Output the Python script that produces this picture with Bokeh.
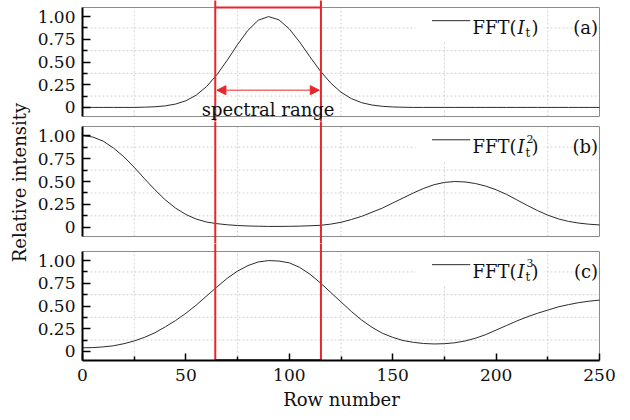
import math
from bokeh.plotting import figure
from bokeh.layouts import column, row
from bokeh.models import Range1d, FixedTicker, Arrow, NormalHead
from bokeh.core.properties import value
from bokeh.embed import file_html
from bokeh.resources import INLINE

# ---------------- data ----------------
row_number = list(range(0, 251, 5))

fft_I1 = [0, 0, 0, 0, 0, 0, 0.003, 0.007, 0.017, 0.037,
          0.073, 0.135, 0.230, 0.360, 0.520, 0.693, 0.849, 0.960, 1.0, 0.964,
          0.864, 0.720, 0.557, 0.401, 0.269, 0.167, 0.097, 0.052, 0.026, 0.012,
          0.005, 0.002, 0, 0, 0, 0, 0, 0, 0, 0,
          0, 0, 0, 0, 0, 0, 0, 0, 0, 0, 0]

fft_I2 = [1.0, 0.985, 0.94, 0.865, 0.77, 0.655, 0.53, 0.41, 0.30, 0.21,
          0.14, 0.09, 0.058, 0.04, 0.028, 0.02, 0.015, 0.012, 0.01, 0.01,
          0.011, 0.013, 0.017, 0.022, 0.035, 0.055, 0.085, 0.12, 0.165, 0.21,
          0.265, 0.32, 0.375, 0.425, 0.465, 0.49, 0.50, 0.495, 0.478, 0.45,
          0.41, 0.36, 0.30, 0.24, 0.183, 0.133, 0.093, 0.065, 0.046, 0.034, 0.026]

fft_I3 = [0.04, 0.042, 0.05, 0.062, 0.085, 0.115, 0.155, 0.205, 0.27, 0.34,
          0.42, 0.51, 0.61, 0.71, 0.805, 0.885, 0.945, 0.985, 1.0, 0.995,
          0.975, 0.925, 0.85, 0.755, 0.65, 0.545, 0.44, 0.345, 0.265, 0.20,
          0.155, 0.12, 0.10, 0.087, 0.082, 0.085, 0.095, 0.115, 0.145, 0.185,
          0.235, 0.285, 0.335, 0.38, 0.42, 0.455, 0.49, 0.515, 0.537, 0.553, 0.565]

series = [fft_I1, fft_I2, fft_I3]
powers = ["", "2", "3"]
panel_labels = ["(a)", "(b)", "(c)"]

y_ticks = [0, 0.25, 0.5, 0.75, 1.0]
y_tick_labels = ["0", "0.25", "0.50", "0.75", "1.00"]
y_minor = [0.125, 0.375, 0.625, 0.875]
x_ticks = [0, 50, 100, 150, 200, 250]
x_minor = [25, 75, 125, 175, 225]
range_lo, range_hi = 64.2, 115.3

# ---------------- styling / layout ----------------
FONT = "DejaVu Serif"
RED = "#e8262a"
CURVE = "#2b2b2b"
BOX = "#8c8c8c"
GRID = "#d2d2d2"
TXT = "#111111"
Y_LO, Y_HI = -0.1, 1.1
X_LO, X_HI = 0, 250
LBL_W = 32
LEFT, RIGHT = 50, 22
FRAME_W = 518
W = LEFT + FRAME_W + RIGHT
x_range = Range1d(0, FRAME_W / (517.0 / 250))

# (frame top, panel top, panel bottom, frame bottom) in canvas pixels
geoms = [(0, 7, 116, 121), (121, 126, 236, 243), (243, 251, 360, 360)]
BOTTOM_BORDER = 55
TOTAL_H = geoms[-1][3] + BOTTOM_BORDER

figs = []
for i, (T, pt, pb, B) in enumerate(geoms):
    k = (pb - pt) / (Y_HI - Y_LO)
    y_end = Y_HI + (pt - T) / k
    y_start = Y_LO - (B - pb) / k
    last = i == 2
    h = (B - T) + (BOTTOM_BORDER if last else 0)
    p = figure(width=W, height=h, x_range=x_range,
               y_range=Range1d(y_start, y_end),
               output_backend="svg", toolbar_location=None,
               x_axis_location="below" if last else None,
               min_border_left=LEFT, min_border_right=RIGHT,
               min_border_top=0, min_border_bottom=BOTTOM_BORDER if last else 0)
    p.outline_line_color = None
    p.background_fill_color = "white"
    p.border_fill_color = "white"
    p.xgrid.visible = False
    p.ygrid.visible = False

    # grid (dashed, at minor positions, only inside the panel)
    p.segment(x0=x_minor, x1=x_minor, y0=[Y_LO] * len(x_minor), y1=[Y_HI] * len(x_minor),
              line_color=GRID, line_dash="2 2", line_width=1)
    p.segment(x0=[X_LO] * len(y_minor), x1=[X_HI] * len(y_minor), y0=y_minor, y1=y_minor,
              line_color=GRID, line_dash="2 2", line_width=1)

    # legend background
    p.quad(left=[161], right=[223], bottom=[0.72], top=[Y_HI],
           fill_color="white", line_color=None)

    # panel box
    p.quad(left=[X_LO], right=[X_HI], bottom=[Y_LO], top=[Y_HI],
           fill_color=None, line_color=BOX, line_width=1)

    # curve
    p.line(row_number, series[i], line_color=CURVE, line_width=1)

    # red spectral-range rectangle (spans all panels)
    p.segment(x0=[range_lo, range_hi], x1=[range_lo, range_hi],
              y0=[y_start - 0.2] * 2, y1=[y_end + 0.2] * 2,
              line_color=RED, line_width=2)
    if i == 0:
        p.segment(x0=[range_lo], x1=[range_hi], y0=[Y_HI], y1=[Y_HI],
                  line_color=RED, line_width=2)
        p.add_layout(Arrow(x_start=range_lo + 0.8, x_end=range_hi - 0.8, y_start=0.19, y_end=0.19,
                           line_color=RED, line_width=1,
                           start=NormalHead(size=9, fill_color=RED, line_color=RED, line_width=1),
                           end=NormalHead(size=9, fill_color=RED, line_color=RED, line_width=1)))
        p.text(x=[(range_lo + range_hi) / 2], y=[-0.025], text=["spectral range"],
               text_font=value(FONT), text_font_size="18px", text_color=TXT,
               text_align="center", text_baseline="alphabetic")
    if last:
        p.segment(x0=[range_lo], x1=[range_hi], y0=[Y_LO], y1=[Y_LO],
                  line_color=RED, line_width=3)

    # legend
    base = 0.88
    p.segment(x0=[169], x1=[187.5], y0=[base + 0.075], y1=[base + 0.075],
              line_color=CURVE, line_width=1)
    tx = 188.6
    parts = [("FFT(", 0, 0, 18, "normal"),
             ("I", 45, 0, 18, "italic"),
             ("t", 53, 6, 12, "normal")]
    if powers[i]:
        parts.append((powers[i], 54, -8, 11, "normal"))
    parts.append((")", 59, 0, 18, "normal"))
    for s, dx, dy, sz, st in parts:
        p.text(x=[tx], y=[base], text=[s], x_offset=dx, y_offset=dy,
               text_font=value(FONT), text_font_size=f"{sz}px", text_font_style=st,
               text_color=TXT, text_align="left", text_baseline="alphabetic")
    p.text(x=[249.3], y=[base], text=[panel_labels[i]],
           text_font=value(FONT), text_font_size="18px", text_color=TXT,
           text_align="right", text_baseline="alphabetic")

    # left axis
    ya = p.yaxis[0]
    ya.ticker = FixedTicker(ticks=y_ticks, minor_ticks=y_minor)
    ya.major_label_overrides = dict(zip(y_ticks, y_tick_labels))
    ya.bounds = (Y_LO, Y_HI)
    ya.axis_line_color = "black"
    ya.axis_line_width = 2
    ya.major_tick_in = 8
    ya.major_tick_out = 0
    ya.minor_tick_in = 5
    ya.minor_tick_out = 0
    ya.major_tick_line_width = 1.5
    ya.minor_tick_line_width = 1.5
    ya.major_tick_line_color = "black"
    ya.minor_tick_line_color = "black"
    ya.major_label_standoff = 7
    ya.major_label_text_font = FONT
    ya.major_label_text_font_size = "17px"
    ya.major_label_text_color = TXT

    if last:
        xa = p.xaxis[0]
        xa.ticker = FixedTicker(ticks=x_ticks, minor_ticks=x_minor)
        xa.bounds = (X_LO, X_HI)
        xa.axis_line_color = "black"
        xa.axis_line_width = 2
        xa.major_tick_in = 7
        xa.major_tick_out = 0
        xa.minor_tick_in = 4
        xa.minor_tick_out = 0
        xa.major_tick_line_width = 1.5
        xa.minor_tick_line_width = 1.5
        xa.major_label_standoff = 8
        xa.major_label_text_font = FONT
        xa.major_label_text_font_size = "17px"
        xa.major_label_text_color = TXT
        xa.axis_label = "Row number"
        xa.axis_label_text_font = FONT
        xa.axis_label_text_font_size = "18px"
        xa.axis_label_text_font_style = "normal"
        xa.axis_label_text_color = TXT
        xa.axis_label_standoff = 5
    figs.append(p)

# y-axis title spanning all three panels
lab = figure(width=LBL_W, height=TOTAL_H, x_range=Range1d(0, LBL_W), y_range=Range1d(0, TOTAL_H),
             output_backend="svg", toolbar_location=None,
             x_axis_location=None, y_axis_location=None,
             min_border_left=0, min_border_right=0, min_border_top=0, min_border_bottom=0)
lab.outline_line_color = None
lab.xgrid.visible = False
lab.ygrid.visible = False
lab.background_fill_color = "white"
lab.border_fill_color = "white"
lab.text(x=[19], y=[TOTAL_H - 182], text=["Relative intensity"],
         angle=math.pi / 2, text_font=value(FONT), text_font_size="18px", text_color=TXT,
         text_align="center", text_baseline="middle")

layout = row(lab, column(*figs, spacing=0), spacing=0)
open("out.html", "w").write(file_html(layout, INLINE))
